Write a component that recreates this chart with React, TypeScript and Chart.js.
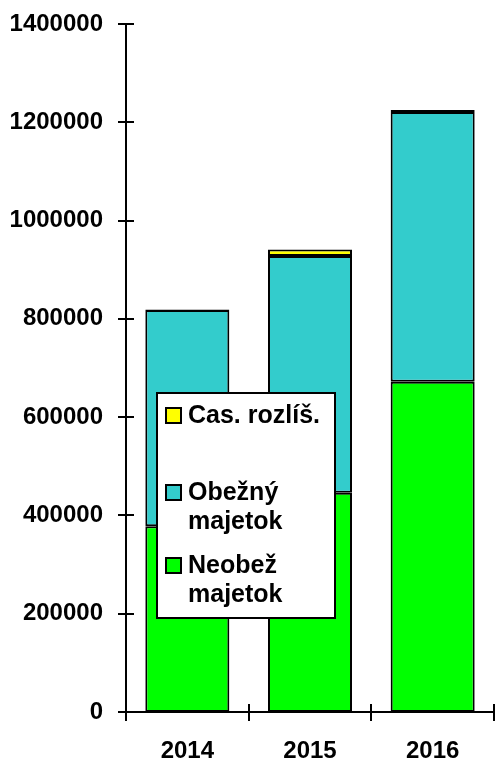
import React, { useEffect, useRef } from "react";
import { Chart, registerables } from "chart.js";

Chart.register(...registerables);

const years = ["2014", "2015", "2016"];
const neobeznyMajetok = [378000, 446000, 672000];
const obeznyMajetok = [440000, 482000, 549000];
const casoveRozlisenie = [1000, 13000, 4000];
const yMin = 0;
const yMax = 1400000;
const yStep = 200000;

const seriesLabels = ["Neobež majetok", "Obežný majetok", "Cas. rozlíš."];
const legendLines = [["Neobež", "majetok"], ["Obežný", "majetok"], ["Cas. rozlíš.", ""]];
const seriesColors = ["#00FF00", "#33CCCC", "#FFFF00"];

const FONT = '"Liberation Sans", Arial, sans-serif';

const tickPlugin = {
  id: "crossTicks",
  afterDraw(chart: any) {
    const ctx = chart.ctx;
    const y = chart.scales.y;
    const x = chart.scales.x;
    const area = chart.chartArea;
    ctx.save();
    ctx.strokeStyle = "#000";
    ctx.lineWidth = 2;
    y.ticks.forEach((_t: any, i: number) => {
      const py = Math.round(y.getPixelForTick(i));
      ctx.beginPath();
      ctx.moveTo(area.left - 8, py);
      ctx.lineTo(area.left + 8, py);
      ctx.stroke();
    });
    const n = x.ticks.length;
    const half = (x.getPixelForValue(1) - x.getPixelForValue(0)) / 2;
    for (let i = 0; i <= n; i++) {
      const px = Math.round(i < n ? x.getPixelForValue(i) - half : x.getPixelForValue(n - 1) + half);
      ctx.beginPath();
      ctx.moveTo(px, area.bottom - 8);
      ctx.lineTo(px, area.bottom + 9);
      ctx.stroke();
    }
    ctx.restore();
  },
};

const legendPlugin = {
  id: "boxLegend",
  afterDraw(chart: any) {
    const ctx = chart.ctx;
    const bx = 157;
    const by = 393;
    const bw = 178;
    const bh = 225;
    ctx.save();
    ctx.fillStyle = "#fff";
    ctx.fillRect(bx, by, bw, bh);
    ctx.strokeStyle = "#000";
    ctx.lineWidth = 2;
    ctx.strokeRect(bx, by, bw, bh);
    ctx.font = `bold 25px ${FONT}`;
    ctx.textBaseline = "alphabetic";
    ctx.textAlign = "left";
    const offsets = [30, 107, 180];
    const order = [2, 1, 0];
    order.forEach((di, k) => {
      const base = by + offsets[k];
      const ds = chart.data.datasets[di];
      ctx.fillStyle = ds.backgroundColor;
      ctx.fillRect(bx + 9, base - 15, 15, 15);
      ctx.strokeStyle = "#000";
      ctx.lineWidth = 2;
      ctx.strokeRect(bx + 9, base - 15, 15, 15);
      ctx.fillStyle = "#000";
      legendLines[di].forEach((line, li) => {
        ctx.fillText(line, bx + 31, base + li * 29);
      });
    });
    ctx.restore();
  },
};

export default function App() {
  const ref = useRef<HTMLCanvasElement>(null);
  useEffect(() => {
    if (!ref.current) return;
    const chart = new Chart(ref.current, {
      type: "bar",
      data: {
        labels: years,
        datasets: [neobeznyMajetok, obeznyMajetok, casoveRozlisenie].map((d, i) => ({
          label: seriesLabels[i],
          data: d,
          backgroundColor: seriesColors[i],
          borderColor: "#000",
          borderWidth: 2,
          borderSkipped: false,
          barPercentage: 0.685,
          categoryPercentage: 1,
        })),
      },
      options: {
        animation: false,
        responsive: false,
        maintainAspectRatio: false,
        layout: { padding: { top: 24, right: 1, left: 0, bottom: 0 } },
        plugins: { legend: { display: false }, tooltip: { enabled: false } },
        scales: {
          x: {
            stacked: true,
            grid: { display: false, drawTicks: true, tickLength: 25 },
            border: { display: true, color: "#000", width: 2 },
            ticks: {
              color: "#000",
              font: { family: FONT, size: 24, weight: "bold" },
              padding: 0,
            },
            afterFit(scale: any) {
              scale.height = 51;
            },
          },
          y: {
            stacked: true,
            min: yMin,
            max: yMax,
            grid: { display: false, drawTicks: true, tickLength: 23 },
            border: { display: true, color: "#000", width: 2 },
            ticks: {
              stepSize: yStep,
              color: "#000",
              font: { family: FONT, size: 24, weight: "bold" },
              padding: 0,
              callback: (v: any) => String(v),
            },
            afterFit(scale: any) {
              scale.width = 126;
            },
          },
        },
      },
      plugins: [tickPlugin, legendPlugin],
    });
    return () => chart.destroy();
  }, []);
  return (
    <div style={{ position: "fixed", left: 0, top: 0, width: 495, height: 763, background: "#fff" }}>
      <canvas ref={ref} width={495} height={763} style={{ width: 495, height: 763 }} />
    </div>
  );
}
